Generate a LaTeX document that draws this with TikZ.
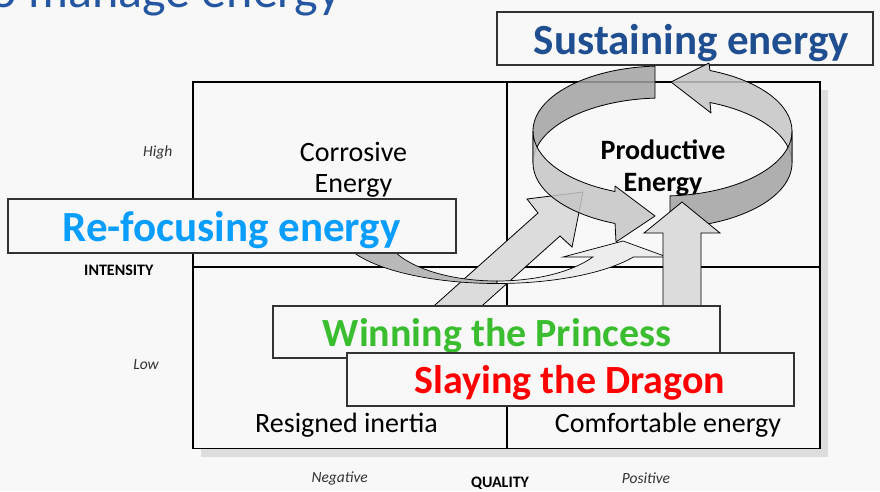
\documentclass[tikz,border=0pt]{standalone}
\usepackage{fontspec}
\setmainfont{Carlito}
\begin{document}
\definecolor{bg}{HTML}{F8F8F8}
\definecolor{shadowgrey}{HTML}{DDDDDD}
\definecolor{ringdark}{HTML}{A3A3A3}
\definecolor{ringlight}{HTML}{C6C6C6}
\definecolor{shaftgrey}{HTML}{DCDCDC}
\definecolor{swooshdark}{HTML}{B9B9B9}
\definecolor{swooshlight}{HTML}{EDEDED}
\definecolor{titleblue}{RGB}{36,86,162}
\definecolor{sustainblue}{RGB}{31,78,145}
\definecolor{refocusblue}{RGB}{10,158,252}
\definecolor{princessgreen}{RGB}{58,190,48}
\definecolor{dragonred}{RGB}{255,0,0}
\begin{tikzpicture}[x=1pt,y=-1pt,
  framebox/.style={draw=black,line width=1.8pt},
  gridline/.style={draw=black,line width=2.6pt},
  labelbox/.style={draw=black!80,line width=1.3pt,fill=bg,inner sep=0pt},
  bigword/.style={inner sep=0pt,anchor=base,font=\fontsize{43}{50}\selectfont\bfseries},
  midword/.style={inner sep=0pt,anchor=base,font=\fontsize{40}{46}\selectfont\bfseries},
  qtext/.style={inner sep=0pt,anchor=base,font=\fontsize{28}{32}\selectfont},
  qbold/.style={inner sep=0pt,anchor=base,font=\fontsize{28}{32}\selectfont\bfseries},
  axlab/.style={inner sep=0pt,anchor=base,text=black!80,font=\fontsize{15.5}{18}\selectfont\itshape},
  axbold/.style={inner sep=0pt,anchor=base,font=\fontsize{16}{18}\selectfont\bfseries},
  ringpart/.style={draw=black,line width=0.8pt,fill opacity=0.85,line join=round},
  blockarrow/.style={draw=black,line width=0.8pt,fill=shaftgrey,line join=miter}]
\useasboundingbox (0,0) rectangle (880,491);
\fill[bg] (0,0) rectangle (880,491);

% heading, mostly above the visible area
\node[inner sep=0pt,anchor=base east,text=titleblue,font=\fontsize{50}{56}\selectfont] (title) at (341,7) {to manage energy};

% quality / intensity grid with its drop shadow
\coordinate (fNW) at (193,82);
\coordinate (fSE) at (820,448.5);
\fill[shadowgrey] ([shift={(8,8)}]fNW) rectangle ([shift={(8,8)}]fSE);
\fill[bg] (fNW) rectangle (fSE);
\coordinate (midtop) at (507,82);
\coordinate (midbot) at (507,448.5);
\coordinate (midleft) at (193,267);
\coordinate (midright) at (820,267);
\draw[gridline] (midtop) -- (midbot);
\draw[gridline] (midleft) -- (midright);
\draw[framebox] (fNW) rectangle (fSE);

% quadrant captions
\node[qtext] (corr1) at (353.5,161) {Corrosive};
\node[qtext] (corr2) at (353.5,192) {Energy};
\node[qbold] (prod1) at (663,159) {Productive};
\node[qbold] (prod2) at (663,191) {Energy};
\node[qtext] (resig) at (346.5,432) {Resigned inertia};
\node[qtext] (comf) at (668,432) {Comfortable energy};

% axis captions
\node[axlab] (high) at (157.7,156) {High};
\node[axbold] (inten) at (118.8,275) {INTENSITY};
\node[axlab] (low) at (146,369) {Low};
\node[axlab] (neg) at (339.7,482.5) {Negative};
\node[axbold] (qual) at (500,487.5) {QUALITY};
\node[axlab] (pos) at (646,483) {Positive};

% diagonal arrow rising from the lower-left quadrant
\draw[blockarrow] (407,330) -- (538,213) -- (527,199) -- (583,192) -- (572,247) -- (560,236) -- (455,330) -- cycle;

% swoosh arrow curling under the grid centre
\fill[swooshdark,draw=black,line width=0.7pt]
  (345.35,245.02) arc[start angle=163.7,end angle=90,x radius=158,y radius=53.5]
  -- (497,281) arc[start angle=90,end angle=162.9,x radius=113,y radius=51] -- cycle;
\fill[swooshlight,draw=black,line width=0.7pt]
  (497,283.5) arc[start angle=90,end angle=30.3,x radius=158,y radius=53.5]
  -- (667,257) -- (623,241) -- (563,257) -- (592.9,256.95)
  arc[start angle=31.9,end angle=90,x radius=113,y radius=51] -- cycle;

% sustaining box sits behind the ring
\node[labelbox,minimum width=376pt,minimum height=53pt] (susbox) at (685,38.5) {};
\node[bigword,text=sustainblue] (sus) at (691.5,54) {Sustaining energy};

% the ring: two curved arrows on an elliptical band, back halves first
\fill[ringpart,fill=ringdark]
  (655.04,66.11) arc[start angle=266.7,end angle=180,x radius=129.5,y radius=65]
  -- (533,163) arc[start angle=180,end angle=266.7,x radius=129.5,y radius=65] -- cycle;
\fill[ringpart,fill=ringlight]
  (792,131) arc[start angle=0,end angle=-68.5,x radius=129.5,y radius=65]
  -- (709,63) -- (671,82) -- (711,113) -- (709.96,102.52)
  arc[start angle=-68.5,end angle=0,x radius=129.5,y radius=65] -- cycle;
\fill[ringpart,fill=ringlight]
  (533,131) arc[start angle=180,end angle=111.5,x radius=129.5,y radius=65]
  -- (615,186) -- (655,216) -- (616,242) -- (615.04,223.48)
  arc[start angle=111.5,end angle=180,x radius=129.5,y radius=65] -- cycle;
\fill[ringpart,fill=ringdark]
  (669.96,195.89) arc[start angle=86.7,end angle=0,x radius=129.5,y radius=65]
  -- (792,163) arc[start angle=0,end angle=86.7,x radius=129.5,y radius=65] -- cycle;

% vertical arrow into productive energy
\draw[blockarrow] (663,330) -- (663,233) -- (644,233) -- (682,202) -- (720,233) -- (701,233) -- (701,330) -- cycle;

% strategy labels
\node[labelbox,minimum width=448pt,minimum height=54pt] (refbox) at (232,226) {};
\node[bigword,text=refocusblue] (refocus) at (231.5,241.7) {Re-focusing energy};
\node[labelbox,minimum width=447pt,minimum height=52pt] (winbox) at (496.5,332) {};
\node[midword,text=princessgreen] (princess) at (497,346) {Winning the Princess};
\node[labelbox,minimum width=447pt,minimum height=53pt] (slaybox) at (570.5,379.5) {};
\node[midword,text=dragonred] (dragon) at (570,393) {Slaying the Dragon};
\end{tikzpicture}
\end{document}
